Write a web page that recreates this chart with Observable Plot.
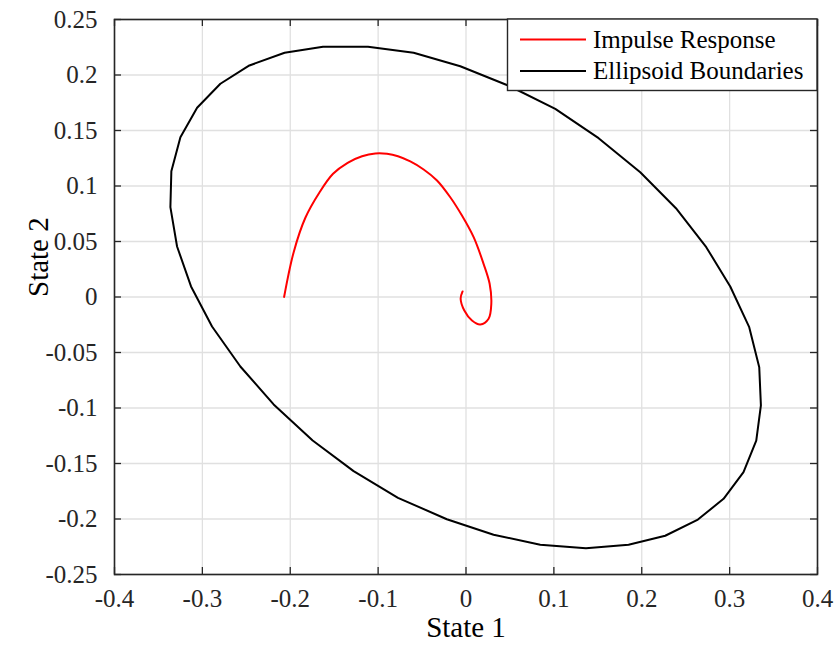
<!DOCTYPE html>
<html>
<head>
<meta charset="utf-8">
<script src="https://cdn.jsdelivr.net/npm/d3@7"></script>
<script src="https://cdn.jsdelivr.net/npm/@observablehq/plot@0.6"></script>
<style>
  html, body { margin: 0; padding: 0; background: #fff; }
  #chart { width: 836px; height: 649px; }
</style>
</head>
<body>
<div id="chart"></div>
<script>
// Tick values for both axes
const xTicks = [-0.4, -0.3, -0.2, -0.1, 0, 0.1, 0.2, 0.3, 0.4];
const yTicks = [-0.25, -0.2, -0.15, -0.1, -0.05, 0, 0.05, 0.1, 0.15, 0.2, 0.25];

// Ellipsoid boundary (closed polygon)
const ellipseX = [-0.0065, -0.0596, -0.1115, -0.1627, -0.2064, -0.2465, -0.2795, -0.3060, -0.3250, -0.3353,
  -0.3364, -0.3288, -0.3129, -0.2890, -0.2568, -0.2189, -0.1745, -0.1279, -0.0774, -0.0218,
  0.0314, 0.0845, 0.1365, 0.1850, 0.2267, 0.2639, 0.2931, 0.3158, 0.3303, 0.3356,
  0.3337, 0.3223, 0.3007, 0.2734, 0.2389, 0.1983, 0.1509, 0.1016, 0.0493, -0.0065];
const ellipseY = [0.2079, 0.2200, 0.2254, 0.2254, 0.2200, 0.2086, 0.1921, 0.1705, 0.1440, 0.1133,
  0.0809, 0.0455, 0.0095, -0.0266, -0.0626, -0.0968, -0.1293, -0.1569, -0.1809, -0.2002,
  -0.2142, -0.2232, -0.2263, -0.2232, -0.2151, -0.2005, -0.1818, -0.1578, -0.1293, -0.0977,
  -0.0632, -0.0272, 0.0095, 0.0449, 0.0800, 0.1124, 0.1431, 0.1695, 0.1901, 0.2079];

// Impulse response trajectory in the state plane
const impulseX = [-0.2070, -0.1961, -0.1828, -0.1666, -0.1513, -0.1347, -0.1183, -0.1032, -0.0899, -0.0774,
  -0.0634, -0.0482, -0.0330, -0.0179, -0.0046, 0.0087, 0.0200, 0.0269, 0.0288, 0.0257,
  0.0163, 0.0068, -0.0019, -0.0061, -0.0039];
const impulseY = [0.0000, 0.0404, 0.0714, 0.0944, 0.1110, 0.1209, 0.1268, 0.1293, 0.1290, 0.1268,
  0.1221, 0.1149, 0.1050, 0.0899, 0.0734, 0.0539, 0.0299, 0.0119, -0.0061, -0.0196,
  -0.0248, -0.0212, -0.0122, -0.0016, 0.0050];

const seriesNames = ["Impulse Response", "Ellipsoid Boundaries"];
const seriesColors = ["#ff0000", "#000000"];

const W = 836, H = 649;
const mL = 114, mR = 19, mT = 19, mB = 75;
const iw = W - mL - mR, ih = H - mT - mB;
const tickLen = 7;
const axisColor = "#262626";
const font = "'Liberation Serif', 'Times New Roman', serif";

const ellipse = ellipseX.map((x, i) => ({x, y: ellipseY[i]}));
const impulse = impulseX.map((x, i) => ({x, y: impulseY[i]}));

const svg = Plot.plot({
  width: W,
  height: H,
  marginLeft: mL,
  marginRight: mR,
  marginTop: mT,
  marginBottom: mB,
  style: {fontFamily: font, fontSize: "25px", color: axisColor, background: "#fff"},
  x: {domain: [-0.4, 0.4]},
  y: {domain: [-0.25, 0.25]},
  marks: [
    Plot.gridX(xTicks, {stroke: "#e0e0e0", strokeOpacity: 1, strokeWidth: 1.3}),
    Plot.gridY(yTicks, {stroke: "#e0e0e0", strokeOpacity: 1, strokeWidth: 1.3}),
    Plot.line(impulse, {x: "x", y: "y", stroke: seriesColors[0], strokeWidth: 2, curve: "catmull-rom"}),
    Plot.line(ellipse, {x: "x", y: "y", stroke: seriesColors[1], strokeWidth: 2, curve: "linear"}),
    // inward ticks on all four sides
    Plot.tickX(xTicks, {x: d => d, insetTop: ih - tickLen, stroke: axisColor, strokeWidth: 1.3}),
    Plot.tickX(xTicks, {x: d => d, insetBottom: ih - tickLen, stroke: axisColor, strokeWidth: 1.3}),
    Plot.tickY(yTicks, {y: d => d, insetRight: iw - tickLen, stroke: axisColor, strokeWidth: 1.3}),
    Plot.tickY(yTicks, {y: d => d, insetLeft: iw - tickLen, stroke: axisColor, strokeWidth: 1.3}),
    Plot.frame({stroke: axisColor, strokeWidth: 1.6}),
    Plot.axisX(xTicks, {anchor: "bottom", tickSize: 0, tickPadding: 15, tickFormat: d => String(d), label: null, fill: axisColor}),
    Plot.axisY(yTicks, {anchor: "left", tickSize: 0, tickPadding: 17, tickFormat: d => String(d), label: null, fill: axisColor}),
    Plot.text(["State 1"], {text: d => d, frameAnchor: "bottom", dy: 62, fontSize: 29, fill: "#000"}),
    Plot.text(["State 2"], {text: d => d, frameAnchor: "left", rotate: -90, dx: -76, fontSize: 29, fill: "#000"})
  ]
});

// Legend box in the upper-right corner of the axes
const lg = d3.select(svg).append("g")
  .attr("font-family", font).attr("font-size", 25).attr("text-anchor", "start");
const lgX0 = 507.5, lgX1 = W - mR, lgY0 = mT, lgY1 = 90.5;
lg.append("rect")
  .attr("x", lgX0).attr("y", lgY0)
  .attr("width", lgX1 - lgX0).attr("height", lgY1 - lgY0)
  .attr("fill", "#fff").attr("stroke", axisColor).attr("stroke-width", 1.4);
seriesNames.forEach((name, i) => {
  const cy = 39.5 + i * 31.5;
  lg.append("line")
    .attr("x1", 520).attr("x2", 586).attr("y1", cy).attr("y2", cy)
    .attr("stroke", seriesColors[i]).attr("stroke-width", 2);
  lg.append("text")
    .attr("x", 593).attr("y", cy).attr("dy", "0.33em")
    .attr("fill", "#000").text(name);
});

document.getElementById("chart").appendChild(svg);
</script>
</body>
</html>
